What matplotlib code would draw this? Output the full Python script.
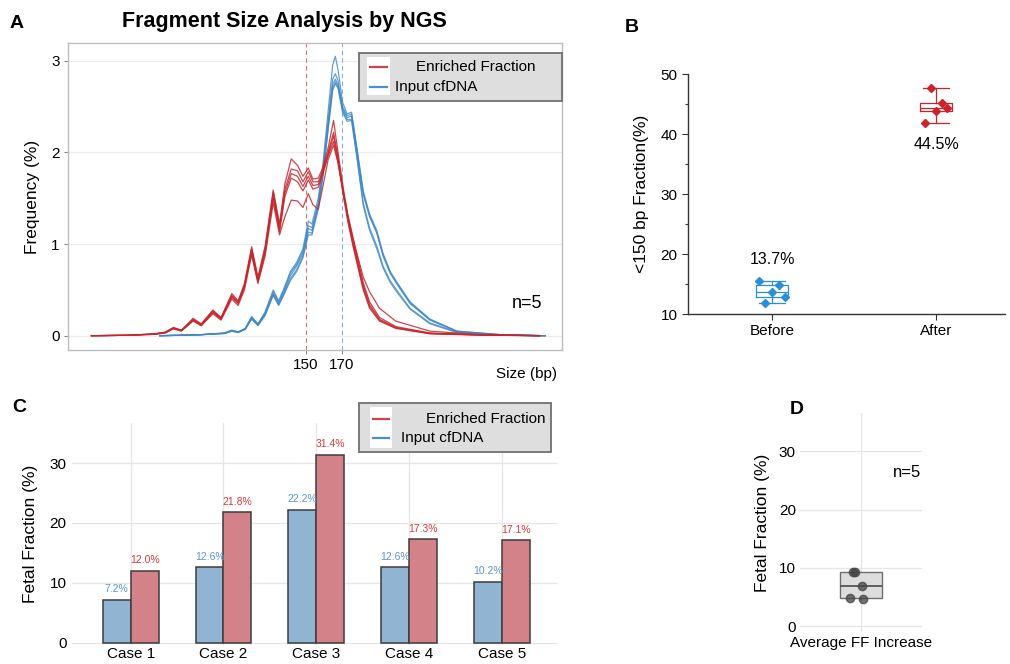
import numpy as np
import matplotlib
matplotlib.use('Agg')
import matplotlib.pyplot as plt
from matplotlib.patches import Rectangle
from matplotlib.lines import Line2D

plt.rcParams['font.family'] = ['Liberation Sans', 'DejaVu Sans']

W, H = 1010, 664

# ---- panel A: fragment size profiles ----
red_bp = [31, 52, 66, 72, 76.5, 81, 87.5, 92, 98.5, 103, 109, 112.5, 116, 120, 123.5, 127.5,
          132, 135.5, 138.5, 142, 145.5, 148.5, 151.5, 154, 157, 159.5, 162.5, 165.5, 168, 171,
          173.5, 176.5, 179, 182, 185.5, 191, 200, 219, 247, 280]
red_1 = [0, 0.005, 0.02, 0.04, 0.09, 0.06, 0.19, 0.13, 0.28, 0.2, 0.46, 0.38, 0.57, 0.97, 0.64, 0.98,
         1.59, 1.22, 1.66, 1.93, 1.86, 1.74, 1.83, 1.71, 1.72, 1.83, 2.05, 2.35, 2.0, 1.6,
         1.32, 1.05, 0.84, 0.58, 0.37, 0.2, 0.1, 0.03, 0.01, 0]
red_2 = [0, 0.005, 0.02, 0.035, 0.085, 0.06, 0.18, 0.12, 0.27, 0.19, 0.44, 0.37, 0.55, 0.95, 0.62, 0.95,
         1.57, 1.2, 1.6, 1.82, 1.8, 1.68, 1.79, 1.68, 1.68, 1.8, 2.0, 2.22, 1.95, 1.56,
         1.28, 1.02, 0.8, 0.55, 0.34, 0.18, 0.09, 0.025, 0.008, 0]
red_3 = [0, 0.005, 0.02, 0.035, 0.08, 0.055, 0.17, 0.12, 0.26, 0.19, 0.43, 0.36, 0.54, 0.93, 0.6, 0.93,
         1.53, 1.16, 1.56, 1.77, 1.74, 1.63, 1.74, 1.64, 1.65, 1.78, 1.98, 2.18, 1.92, 1.55,
         1.26, 0.98, 0.77, 0.52, 0.32, 0.17, 0.085, 0.025, 0.008, 0]
red_4 = [0, 0.005, 0.015, 0.03, 0.08, 0.055, 0.17, 0.11, 0.25, 0.18, 0.42, 0.35, 0.53, 0.9, 0.59, 0.9,
         1.5, 1.13, 1.52, 1.72, 1.68, 1.58, 1.7, 1.6, 1.62, 1.76, 1.96, 2.12, 1.9, 1.52,
         1.24, 0.96, 0.75, 0.5, 0.3, 0.16, 0.08, 0.02, 0.006, 0]
red_5 = [0, 0.005, 0.015, 0.03, 0.075, 0.05, 0.16, 0.11, 0.24, 0.17, 0.4, 0.33, 0.5, 0.88, 0.57, 0.87,
         1.45, 1.1, 1.3, 1.48, 1.47, 1.4, 1.55, 1.43, 1.38, 1.62, 1.92, 2.08, 1.88, 1.55,
         1.3, 1.05, 0.86, 0.64, 0.48, 0.3, 0.16, 0.05, 0.012, 0]

blue_bp = [69, 91, 105, 109, 112.5, 116.5, 120, 123.5, 127.5, 132, 135, 138, 141.5, 145, 148.5, 151.5,
           153.5, 157, 159.5, 162.5, 165, 166.5, 168, 170.5, 173, 175.5, 178.5, 182, 185.5, 189.5,
           193, 197, 200.5, 208, 219, 234, 258, 283]
blue_1 = [0, 0.01, 0.03, 0.06, 0.04, 0.08, 0.21, 0.13, 0.26, 0.5, 0.38, 0.52, 0.7, 0.8, 0.95, 1.25,
          1.22, 1.5, 1.85, 2.45, 2.95, 3.05, 2.9, 2.55, 2.42, 2.44, 2.05, 1.58, 1.33, 1.15,
          0.9, 0.7, 0.59, 0.37, 0.18, 0.05, 0.012, 0]
blue_2 = [0, 0.01, 0.03, 0.06, 0.04, 0.08, 0.2, 0.12, 0.25, 0.48, 0.37, 0.5, 0.68, 0.78, 0.92, 1.2,
          1.18, 1.45, 1.8, 2.35, 2.8, 2.86, 2.78, 2.5, 2.4, 2.42, 2.03, 1.56, 1.31, 1.13,
          0.88, 0.69, 0.58, 0.36, 0.18, 0.05, 0.012, 0]
blue_3 = [0, 0.01, 0.025, 0.055, 0.04, 0.075, 0.19, 0.12, 0.24, 0.46, 0.35, 0.48, 0.65, 0.76, 0.9, 1.17,
          1.15, 1.42, 1.76, 2.3, 2.74, 2.8, 2.74, 2.48, 2.38, 2.4, 2.0, 1.54, 1.3, 1.12,
          0.87, 0.68, 0.57, 0.35, 0.17, 0.045, 0.01, 0]
blue_4 = [0, 0.01, 0.025, 0.05, 0.035, 0.07, 0.19, 0.115, 0.23, 0.45, 0.34, 0.46, 0.62, 0.72, 0.87, 1.13,
          1.12, 1.4, 1.74, 2.27, 2.7, 2.77, 2.72, 2.46, 2.36, 2.36, 1.96, 1.45, 1.18, 0.98,
          0.76, 0.6, 0.5, 0.3, 0.14, 0.04, 0.01, 0]
blue_5 = [0, 0.01, 0.025, 0.05, 0.035, 0.07, 0.18, 0.11, 0.22, 0.44, 0.33, 0.45, 0.6, 0.7, 0.85, 1.1,
          1.1, 1.38, 1.72, 2.25, 2.68, 2.75, 2.7, 2.44, 2.34, 2.35, 1.94, 1.42, 1.15, 0.95,
          0.74, 0.58, 0.48, 0.29, 0.13, 0.035, 0.01, 0]

# ---- panel B: <150 bp fraction ----
groups_b = ['Before', 'After']
before_vals = [15.56, 14.84, 13.6, 12.78, 11.9]
after_vals = [47.6, 45.1, 44.4, 43.8, 41.8]
before_jit = [-0.079, 0.041, 0, 0.081, -0.041]
after_jit = [-0.033, 0.033, 0.069, 0, -0.067]

# ---- panel C: fetal fraction per case ----
cases = ['Case 1', 'Case 2', 'Case 3', 'Case 4', 'Case 5']
ff_input = [7.2, 12.6, 22.2, 12.6, 10.2]
ff_enriched = [12.0, 21.8, 31.4, 17.3, 17.1]

# ---- panel D ----
d_jit = [-0.09, -0.068, -0.049, 0.014, 0.006]

RED = '#c4262c'
BLUE = '#3f88c5'


def add_axes(l, t, r, b):
    return fig.add_axes([l / W, 1 - b / H, (r - l) / W, (b - t) / H])


def fig_legend(x0, y0, x1, y1, kx0, kx1, ky0, ky1, ry, by, rtx, btx, fs):
    tr = fig.transFigure
    fig.add_artist(Rectangle((x0 / W, 1 - y1 / H), (x1 - x0) / W, (y1 - y0) / H, transform=tr,
                             facecolor='#dedede', edgecolor='#707070', lw=1.3))
    fig.add_artist(Rectangle((kx0 / W, 1 - ky1 / H), (kx1 - kx0) / W, (ky1 - ky0) / H, transform=tr,
                             facecolor='white', edgecolor='none'))
    fig.add_artist(Line2D([(kx0 + 3) / W, (kx1 - 3) / W], [1 - ry / H] * 2, transform=tr,
                          color='#d0454a', lw=1.6))
    fig.add_artist(Line2D([(kx0 + 3) / W, (kx1 - 3) / W], [1 - by / H] * 2, transform=tr,
                          color='#4a8fd0', lw=1.6))
    fig.text(rtx / W, 1 - ry / H, 'Enriched Fraction', fontsize=fs, va='center', ha='left')
    fig.text(btx / W, 1 - by / H, 'Input cfDNA', fontsize=fs, va='center', ha='left')


fig = plt.figure(figsize=(W / 100, H / 100), dpi=100)

# ================= A =================
axA = add_axes(68, 43, 562, 350)
for ys in [red_1, red_2, red_3, red_4, red_5]:
    axA.plot(red_bp, ys, color=RED, lw=0.9, alpha=0.85, zorder=3)
for ys in [blue_1, blue_2, blue_3, blue_4, blue_5]:
    axA.plot(blue_bp, ys, color=BLUE, lw=0.9, alpha=0.8, zorder=2)
axA.axvline(150, color='#e07070', ls=(0, (4, 3)), lw=0.8, zorder=1)
axA.axvline(170, color='#80b0d8', ls=(0, (4, 3)), lw=0.8, zorder=1)
axA.set_xlim(18, 292.4)
axA.set_ylim(-0.156, 3.195)
axA.set_yticks([0, 1, 2, 3])
axA.set_xticks([150, 170])
axA.yaxis.grid(True, color='#ececec', lw=0.9)
axA.set_axisbelow(True)
for s in axA.spines.values():
    s.set_color('#bdbdbd')
    s.set_linewidth(1.0)
axA.tick_params(axis='both', length=3, color='#888888', labelsize=11, pad=3)
axA.set_ylabel('Frequency (%)', fontsize=12.5, labelpad=8)
axA.text(0.929, 0.153, 'n=5', transform=axA.transAxes, fontsize=13, ha='center', va='center')
axA.text(1.0 - 0.01, -0.055, 'Size (bp)', transform=axA.transAxes, fontsize=11, ha='right', va='top')
fig.text(284 / W, 1 - 22 / H, 'Fragment Size Analysis by NGS', fontsize=15.5, fontweight='bold',
         ha='center', va='center')
fig_legend(359, 53, 562, 101, 367, 390, 57, 95, 66.7, 87.3, 416, 395, 11)

# ================= B =================
axB = add_axes(688, 74, 1005, 314)
BBLUE = '#2b8fd6'
BRED = '#cc2229'
for i, (vals, jit, col) in enumerate([(before_vals, before_jit, BBLUE), (after_vals, after_jit, BRED)]):
    axB.boxplot([vals], positions=[i], widths=0.2, whis=(0, 100), showfliers=False,
                boxprops=dict(color=col, lw=0.9), whiskerprops=dict(color=col, lw=0.9),
                capprops=dict(color=col, lw=0.9), medianprops=dict(color=col, lw=0.9),
                capwidths=0.16)
    axB.plot(np.array(jit) + i, vals, 'D', color=col, ms=4, zorder=4, ls='none')
axB.text(0, 19.0, f'{np.mean(before_vals):.1f}%', ha='center', va='center', fontsize=11.5)
axB.text(1, 38.3, f'{np.mean(after_vals):.1f}%', ha='center', va='center', fontsize=11.5)
axB.set_xlim(-0.512, 1.42)
axB.set_ylim(10, 50)
axB.set_xticks([0, 1])
axB.set_xticklabels(groups_b)
axB.set_yticks([10, 20, 30, 40, 50])
axB.set_yticks([15, 25, 35, 45], minor=True)
for s in ['top', 'right']:
    axB.spines[s].set_visible(False)
for s in ['left', 'bottom']:
    axB.spines[s].set_color('#333333')
    axB.spines[s].set_linewidth(1.0)
axB.tick_params(axis='both', length=4, color='#333333', labelsize=11, width=0.8)
axB.tick_params(axis='y', which='minor', length=2.5, color='#333333', width=0.8)
axB.set_ylabel('<150 bp Fraction(%)', fontsize=12.5, labelpad=8)

# ================= C =================
axC = add_axes(72, 423, 557, 645)
xc = np.arange(len(cases))
axC.bar(xc - 0.15, ff_input, 0.3, color='#92b4d3', edgecolor='#3c3c3c', lw=1.1, zorder=3)
axC.bar(xc + 0.15, ff_enriched, 0.3, color='#d4828a', edgecolor='#3c3c3c', lw=1.1, zorder=3)
for i in range(len(cases)):
    axC.text(xc[i] - 0.15, ff_input[i] + 0.9, f'{ff_input[i]:.1f}%', color='#5a96cf',
             fontsize=7.5, ha='center', va='bottom')
    axC.text(xc[i] + 0.15, ff_enriched[i] + 0.9, f'{ff_enriched[i]:.1f}%', color='#d8383c',
             fontsize=7.5, ha='center', va='bottom')
axC.set_xlim(-0.633, 4.596)
axC.set_ylim(-0.4, 36.7)
axC.set_xticks(xc)
axC.set_xticklabels(cases)
axC.set_yticks([0, 10, 20, 30])
axC.grid(True, color='#e6e6e6', lw=0.9)
axC.set_axisbelow(True)
for s in axC.spines.values():
    s.set_visible(False)
axC.tick_params(axis='both', length=0, labelsize=11, pad=4)
axC.tick_params(axis='x', pad=1.5)
axC.set_ylabel('Fetal Fraction (%)', fontsize=12.5, labelpad=8)
fig_legend(359, 403, 551, 452, 370, 392, 407, 448, 419, 438, 426, 401, 11)

# ================= D =================
axD = add_axes(800, 413, 922, 632)
ff_gain = np.array(ff_enriched) - np.array(ff_input)
axD.boxplot([ff_gain], positions=[0], widths=0.34, patch_artist=True, showfliers=False,
            showcaps=False, whis=(0, 100),
            boxprops=dict(facecolor='#dddddd', edgecolor='#6e6e6e', lw=1.0),
            whiskerprops=dict(color='#6e6e6e', lw=1.0),
            medianprops=dict(color='#555555', lw=1.3), zorder=2)
axD.plot(d_jit, ff_gain, 'o', color='#444444', alpha=0.75, ms=6, ls='none', zorder=4)
axD.set_xlim(-0.5, 0.5)
axD.set_ylim(-1.03, 36.6)
axD.set_xticks([0])
axD.set_xticklabels(['Average FF Increase'])
axD.set_yticks([0, 10, 20, 30])
axD.grid(True, color='#e6e6e6', lw=0.9)
axD.set_axisbelow(True)
for s in axD.spines.values():
    s.set_visible(False)
axD.tick_params(axis='both', length=0, labelsize=11, pad=3)
axD.set_ylabel('Fetal Fraction (%)', fontsize=12.5, labelpad=6)
axD.text(0.88, 0.73, 'n=5', transform=axD.transAxes, fontsize=12, ha='center', va='center')

# panel letters
for lab, x, y in [('A', 17, 23), ('B', 632, 28), ('C', 19, 407), ('D', 797, 409)]:
    fig.text(x / W, 1 - y / H, lab, fontsize=14, fontweight='bold', ha='center', va='center')

fig.savefig('out.png', dpi=100)
